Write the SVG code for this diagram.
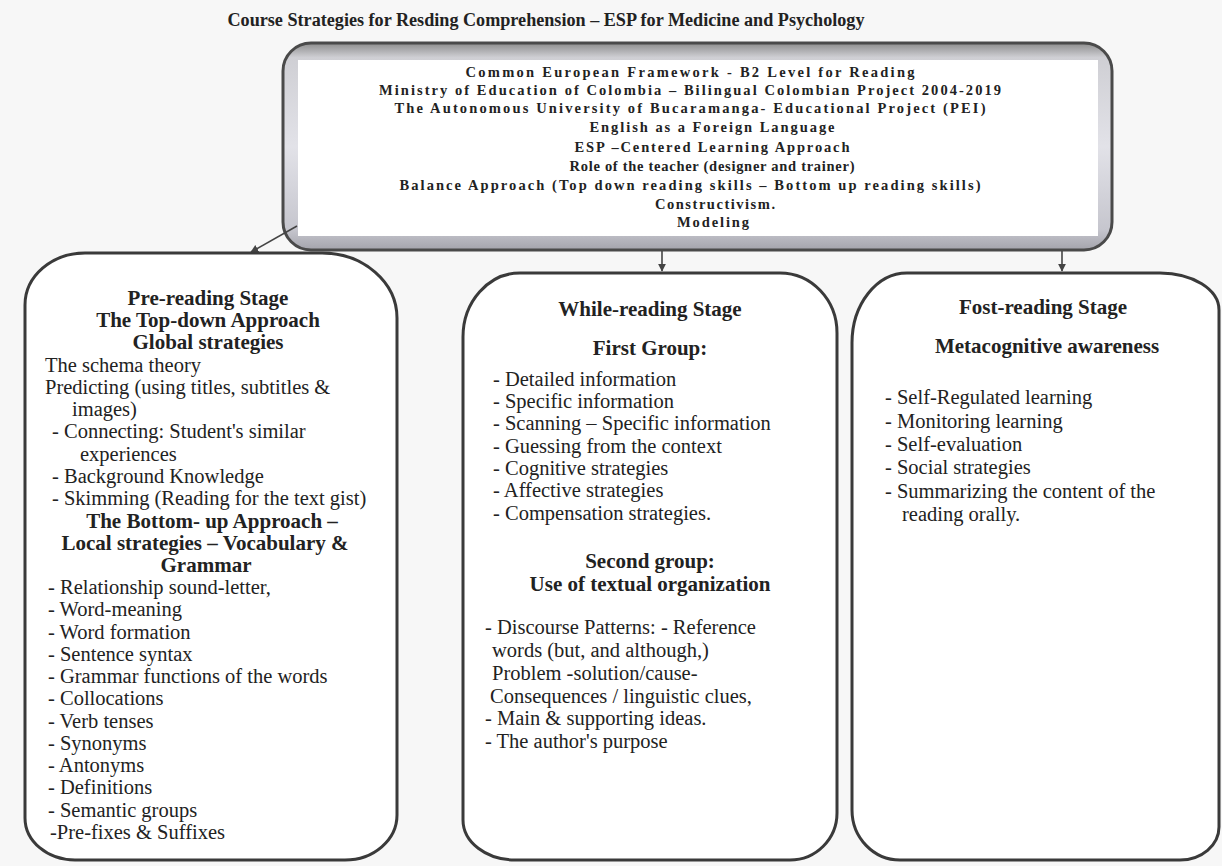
<svg xmlns="http://www.w3.org/2000/svg" width="1222" height="866" viewBox="0 0 1222 866">
<style>
  text { font-family: "Liberation Serif", "Times New Roman", serif; fill: #222; }
  .title { font-size: 18px; font-weight: bold; text-anchor: middle; }
  .top { font-size: 14.5px; font-weight: bold; text-anchor: middle; }
  .h { font-size: 21px; font-weight: bold; text-anchor: middle; }
  .b { font-size: 20.5px; }
  .box { fill: #ffffff; stroke: #3a3a3a; stroke-width: 3; }
  .conn { stroke: #444; stroke-width: 1.6; fill: none; marker-end: url(#arr); }
</style>
<defs>
  <linearGradient id="frame" x1="0" y1="0" x2="0" y2="1">
    <stop offset="0" stop-color="#8c8c8c"/>
    <stop offset="0.07" stop-color="#cfcfd4"/>
    <stop offset="0.5" stop-color="#e2e2e8"/>
    <stop offset="0.9" stop-color="#c6c6ce"/>
    <stop offset="1" stop-color="#a4a4ac"/>
  </linearGradient>
  <marker id="arr" viewBox="0 0 10 10" refX="9" refY="5" markerWidth="5" markerHeight="5" orient="auto">
    <path d="M0,0 L10,5 L0,10 z" fill="#444"/>
  </marker>
</defs>
<rect x="0" y="0" width="1222" height="866" fill="#f7f7f7"/>

<g id="title">
  <text class="title" x="546" y="26" textLength="637" lengthAdjust="spacingAndGlyphs">Course Strategies for Resding Comprehension – ESP for Medicine and Psychology</text>
</g>

<g id="framework">
  <rect x="283" y="43" width="829" height="207" rx="28" fill="url(#frame)" stroke="#4a4a4a" stroke-width="3"/>
  <rect x="298" y="60" width="800" height="176" fill="#ffffff"/>
  <text class="top" x="690" y="77" textLength="449" lengthAdjust="spacing">Common European Framework - B2 Level for Reading</text>
  <text class="top" x="690" y="95" textLength="622" lengthAdjust="spacing">Ministry of Education of Colombia – Bilingual Colombian Project 2004-2019</text>
  <text class="top" x="690" y="113" textLength="591" lengthAdjust="spacing">The Autonomous University of Bucaramanga- Educational Project (PEI)</text>
  <text class="top" x="712" y="132" textLength="245" lengthAdjust="spacing">English as a Foreign Language</text>
  <text class="top" x="712" y="152" textLength="275" lengthAdjust="spacing">ESP –Centered Learning Approach</text>
  <text class="top" x="712" y="171" textLength="285" lengthAdjust="spacing">Role of the teacher (designer and trainer)</text>
  <text class="top" x="690" y="190" textLength="581" lengthAdjust="spacing">Balance Approach (Top down reading skills – Bottom up reading skills)</text>
  <text class="top" x="715" y="209" textLength="120" lengthAdjust="spacing">Constructivism.</text>
  <text class="top" x="713" y="227" textLength="72" lengthAdjust="spacing">Modeling</text>
</g>

<g id="connectors">
  <line class="conn" x1="297" y1="226" x2="251" y2="252"/>
  <line class="conn" x1="662" y1="251" x2="662" y2="271"/>
  <line class="conn" x1="1062" y1="251" x2="1062" y2="271"/>
</g>

<g id="pre-reading">
  <path class="box" d="M 85 253 H 322 A 75 65 0 0 1 397 318 V 815 A 52 45 0 0 1 345 860 H 75 A 50 42 0 0 1 25 818 V 305 A 60 52 0 0 1 85 253 Z"/>
  <text class="h" x="208" y="305">Pre-reading Stage</text>
  <text class="h" x="208" y="327">The Top-down Approach</text>
  <text class="h" x="208" y="349">Global strategies</text>
  <text class="b" x="45" y="372">The schema theory</text>
  <text class="b" x="45" y="394">Predicting (using titles, subtitles &amp;</text>
  <text class="b" x="72" y="416">images)</text>
  <text class="b" x="52" y="438">- Connecting: Student's similar</text>
  <text class="b" x="80" y="461">experiences</text>
  <text class="b" x="52" y="483">- Background Knowledge</text>
  <text class="b" x="52" y="505">- Skimming (Reading for the text gist)</text>
  <text class="h" x="212" y="528">The Bottom- up Approach –</text>
  <text class="h" x="205" y="550">Local strategies – Vocabulary &amp;</text>
  <text class="h" x="206" y="572">Grammar</text>
  <text class="b" x="48" y="594">- Relationship sound-letter,</text>
  <text class="b" x="48" y="616">- Word-meaning</text>
  <text class="b" x="48" y="639">- Word formation</text>
  <text class="b" x="48" y="661">- Sentence syntax</text>
  <text class="b" x="48" y="683">- Grammar functions of the words</text>
  <text class="b" x="48" y="705">- Collocations</text>
  <text class="b" x="48" y="728">- Verb tenses</text>
  <text class="b" x="48" y="750">- Synonyms</text>
  <text class="b" x="48" y="772">- Antonyms</text>
  <text class="b" x="48" y="794">- Definitions</text>
  <text class="b" x="48" y="817">- Semantic groups</text>
  <text class="b" x="50" y="839">-Pre-fixes &amp; Suffixes</text>
</g>

<g id="while-reading">
  <path class="box" d="M 520 273 H 780 A 57 60 0 0 1 837 333 V 813 A 47 47 0 0 1 790 860 H 515 A 52 40 0 0 1 463 820 V 337 A 57 64 0 0 1 520 273 Z"/>
  <text class="h" x="650" y="316">While-reading Stage</text>
  <text class="h" x="650" y="355">First Group:</text>
  <text class="b" x="493" y="386">- Detailed information</text>
  <text class="b" x="493" y="408">- Specific information</text>
  <text class="b" x="493" y="430">- Scanning – Specific information</text>
  <text class="b" x="493" y="453">- Guessing from the context</text>
  <text class="b" x="493" y="475">- Cognitive strategies</text>
  <text class="b" x="493" y="497">- Affective strategies</text>
  <text class="b" x="493" y="520">- Compensation strategies.</text>
  <text class="h" x="650" y="568">Second group:</text>
  <text class="h" x="650" y="591">Use of textual organization</text>
  <text class="b" x="485" y="634">- Discourse Patterns:  - Reference</text>
  <text class="b" x="492" y="657">words (but, and    although,)</text>
  <text class="b" x="492" y="680">Problem -solution/cause-</text>
  <text class="b" x="490" y="703">Consequences /   linguistic clues,</text>
  <text class="b" x="485" y="725">- Main &amp; supporting ideas.</text>
  <text class="b" x="485" y="748">- The author's purpose</text>
</g>

<g id="post-reading">
  <path class="box" d="M 907 273 H 1160 A 59 37 0 0 1 1219 310 V 827 A 39 33 0 0 1 1180 860 H 900 A 48 50 0 0 1 852 810 V 343 A 55 70 0 0 1 907 273 Z"/>
  <text class="h" x="1043" y="314">Fost-reading Stage</text>
  <text class="h" x="1047" y="353">Metacognitive awareness</text>
  <text class="b" x="885" y="404">- Self-Regulated learning</text>
  <text class="b" x="885" y="428">- Monitoring learning</text>
  <text class="b" x="885" y="451">- Self-evaluation</text>
  <text class="b" x="885" y="474">- Social strategies</text>
  <text class="b" x="885" y="498">- Summarizing the content of the</text>
  <text class="b" x="902" y="521">reading orally.</text>
</g>
</svg>
